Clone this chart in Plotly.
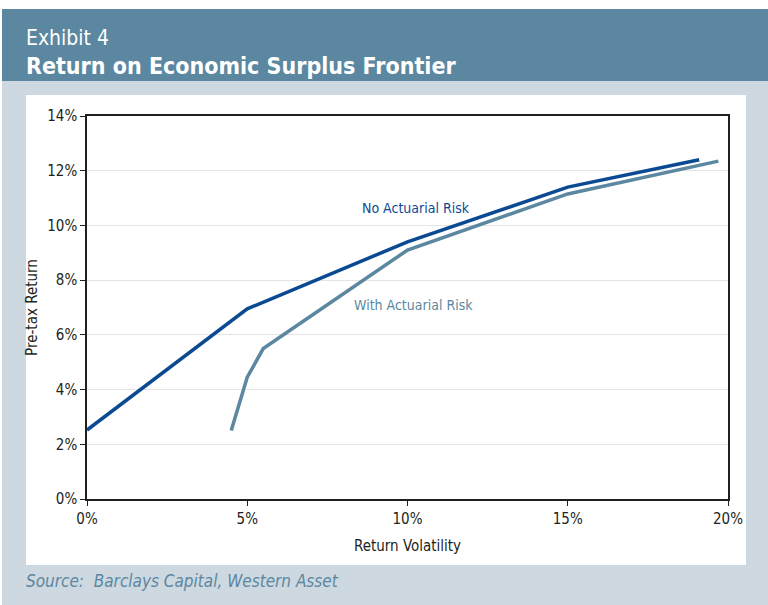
import plotly.graph_objects as go

# Efficient frontier points: return volatility (%) vs pre-tax return (%)
no_risk_vol = [0.0, 5.0, 10.0, 15.0, 19.1]
no_risk_ret = [2.52, 6.95, 9.4, 11.4, 12.4]

with_risk_vol = [4.5, 5.0, 5.5, 10.0, 15.0, 19.7]
with_risk_ret = [2.5, 4.45, 5.5, 9.1, 11.15, 12.35]

x_ticks = [0, 5, 10, 15, 20]
y_ticks = [0, 2, 4, 6, 8, 10, 12, 14]

W, H = 768, 605
L, R, T, B = 87, 728, 116, 499  # plot area in pixels

DARK_BLUE = "#0b4a92"
STEEL = "#5b87a0"
PANEL_GRAY = "#cdd8e0"
FONT = "Liberation Sans Narrow, DejaVu Sans Condensed, Arial Narrow, sans-serif"


def px(x):
    return (x - L) / (R - L)


def py(y):
    return (B - y) / (B - T)


fig = go.Figure()

fig.add_trace(go.Scatter(x=no_risk_vol, y=no_risk_ret, mode="lines",
                         line=dict(color=DARK_BLUE, width=3.5),
                         name="No Actuarial Risk", cliponaxis=False))
fig.add_trace(go.Scatter(x=with_risk_vol, y=with_risk_ret, mode="lines",
                         line=dict(color=STEEL, width=3.5),
                         name="With Actuarial Risk", cliponaxis=False))

shapes = [
    # header band
    dict(type="rect", xref="paper", yref="paper", x0=px(2), x1=px(768),
         y0=py(81), y1=py(9), fillcolor=STEEL, line_width=0, layer="below"),
    # gray frame
    dict(type="rect", xref="paper", yref="paper", x0=px(2), x1=px(768),
         y0=py(605), y1=py(81), fillcolor=PANEL_GRAY, line_width=0, layer="below"),
    # white chart panel
    dict(type="rect", xref="paper", yref="paper", x0=px(26), x1=px(746),
         y0=py(565), y1=py(95), fillcolor="white", line_width=0, layer="below"),
]

annotations = [
    dict(text="Exhibit 4", xref="paper", yref="paper", x=px(24), y=py(38),
         xanchor="left", yanchor="middle", showarrow=False,
         font=dict(family=FONT, size=21, color="white")),
    dict(text="<b>Return on Economic Surplus Frontier</b>", xref="paper", yref="paper",
         x=px(24), y=py(66), xanchor="left", yanchor="middle", showarrow=False,
         font=dict(family=FONT, size=23, color="white")),
    dict(text="<i>Source:  Barclays Capital, Western Asset</i>", xref="paper", yref="paper",
         x=px(24), y=py(581), xanchor="left", yanchor="middle", showarrow=False,
         font=dict(family=FONT, size=17, color=STEEL)),
    dict(text="No Actuarial Risk", x=10.25, y=10.65, showarrow=False,
         font=dict(family=FONT, size=14, color=DARK_BLUE)),
    dict(text="With Actuarial Risk", x=10.2, y=7.1, showarrow=False,
         font=dict(family=FONT, size=14, color=STEEL)),
]

fig.update_layout(
    width=W, height=H,
    margin=dict(l=L, r=W - R, t=T, b=H - B),
    paper_bgcolor="white", plot_bgcolor="white",
    showlegend=False,
    shapes=shapes, annotations=annotations,
    font=dict(family=FONT, size=14, color="#231f20"),
    xaxis=dict(range=[0, 20], tickvals=x_ticks,
               ticktext=[f"{v}%" for v in x_ticks],
               showgrid=False, zeroline=False,
               showline=True, linecolor="#231f20", linewidth=1.5, mirror=True,
               ticks="outside", ticklen=5, tickcolor="#231f20",
               tickfont=dict(size=15),
               title=dict(text="Return Volatility", font=dict(size=15), standoff=14)),
    yaxis=dict(range=[0, 14], tickvals=y_ticks,
               ticktext=[f"{v}%" for v in y_ticks],
               showgrid=True, gridcolor="#e4e4e4", gridwidth=1, zeroline=False,
               showline=True, linecolor="#231f20", linewidth=1.5, mirror=True,
               ticks="outside", ticklen=5, tickcolor="#231f20",
               tickfont=dict(size=15),
               title=dict(text="Pre-tax Return", font=dict(size=15), standoff=6)),
)

fig.write_html("out.html")
